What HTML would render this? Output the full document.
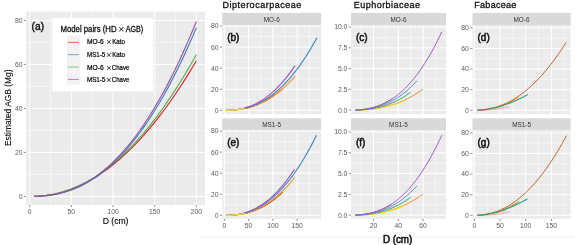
<!DOCTYPE html>
<html><head><meta charset="utf-8"><style>
html,body{margin:0;padding:0;background:#fff;width:575px;height:245px;overflow:hidden;}
svg{display:block;font-family:"Liberation Sans", sans-serif;will-change:transform;}
</style></head><body>
<svg width="575" height="245" viewBox="0 0 575 245" font-family='"Liberation Sans", sans-serif'><rect width="575" height="245" fill="#fff"/>
<rect x="26.2" y="11.6" width="178.8" height="193.4" fill="#EBEBEB"/>
<line x1="50.54" y1="11.6" x2="50.54" y2="205" stroke="#fff" stroke-width="0.5"/>
<line x1="92.21" y1="11.6" x2="92.21" y2="205" stroke="#fff" stroke-width="0.5"/>
<line x1="133.89" y1="11.6" x2="133.89" y2="205" stroke="#fff" stroke-width="0.5"/>
<line x1="175.56" y1="11.6" x2="175.56" y2="205" stroke="#fff" stroke-width="0.5"/>
<line x1="26.2" y1="174.4" x2="205" y2="174.4" stroke="#fff" stroke-width="0.5"/>
<line x1="26.2" y1="130.4" x2="205" y2="130.4" stroke="#fff" stroke-width="0.5"/>
<line x1="26.2" y1="86.4" x2="205" y2="86.4" stroke="#fff" stroke-width="0.5"/>
<line x1="26.2" y1="42.4" x2="205" y2="42.4" stroke="#fff" stroke-width="0.5"/>
<line x1="29.7" y1="11.6" x2="29.7" y2="205" stroke="#fff" stroke-width="1"/>
<line x1="71.38" y1="11.6" x2="71.38" y2="205" stroke="#fff" stroke-width="1"/>
<line x1="113.05" y1="11.6" x2="113.05" y2="205" stroke="#fff" stroke-width="1"/>
<line x1="154.72" y1="11.6" x2="154.72" y2="205" stroke="#fff" stroke-width="1"/>
<line x1="196.4" y1="11.6" x2="196.4" y2="205" stroke="#fff" stroke-width="1"/>
<line x1="26.2" y1="196.4" x2="205" y2="196.4" stroke="#fff" stroke-width="1"/>
<line x1="26.2" y1="152.4" x2="205" y2="152.4" stroke="#fff" stroke-width="1"/>
<line x1="26.2" y1="108.4" x2="205" y2="108.4" stroke="#fff" stroke-width="1"/>
<line x1="26.2" y1="64.4" x2="205" y2="64.4" stroke="#fff" stroke-width="1"/>
<line x1="26.2" y1="20.4" x2="205" y2="20.4" stroke="#fff" stroke-width="1"/>
<line x1="24" y1="196.4" x2="26.2" y2="196.4" stroke="#444444" stroke-width="0.6"/>
<text x="22.6" y="198.8" text-anchor="end" font-size="6.8" fill="#5A5A5A">0</text>
<line x1="24" y1="152.4" x2="26.2" y2="152.4" stroke="#444444" stroke-width="0.6"/>
<text x="22.6" y="154.8" text-anchor="end" font-size="6.8" fill="#5A5A5A">20</text>
<line x1="24" y1="108.4" x2="26.2" y2="108.4" stroke="#444444" stroke-width="0.6"/>
<text x="22.6" y="110.8" text-anchor="end" font-size="6.8" fill="#5A5A5A">40</text>
<line x1="24" y1="64.4" x2="26.2" y2="64.4" stroke="#444444" stroke-width="0.6"/>
<text x="22.6" y="66.8" text-anchor="end" font-size="6.8" fill="#5A5A5A">60</text>
<line x1="24" y1="20.4" x2="26.2" y2="20.4" stroke="#444444" stroke-width="0.6"/>
<text x="22.6" y="22.8" text-anchor="end" font-size="6.8" fill="#5A5A5A">80</text>
<line x1="29.7" y1="205" x2="29.7" y2="207.2" stroke="#444444" stroke-width="0.6"/>
<text x="29.7" y="214.2" text-anchor="middle" font-size="6.8" fill="#5A5A5A">0</text>
<line x1="71.38" y1="205" x2="71.38" y2="207.2" stroke="#444444" stroke-width="0.6"/>
<text x="71.38" y="214.2" text-anchor="middle" font-size="6.8" fill="#5A5A5A">50</text>
<line x1="113.05" y1="205" x2="113.05" y2="207.2" stroke="#444444" stroke-width="0.6"/>
<text x="113.05" y="214.2" text-anchor="middle" font-size="6.8" fill="#5A5A5A">100</text>
<line x1="154.72" y1="205" x2="154.72" y2="207.2" stroke="#444444" stroke-width="0.6"/>
<text x="154.72" y="214.2" text-anchor="middle" font-size="6.8" fill="#5A5A5A">150</text>
<line x1="196.4" y1="205" x2="196.4" y2="207.2" stroke="#444444" stroke-width="0.6"/>
<text x="196.4" y="214.2" text-anchor="middle" font-size="6.8" fill="#5A5A5A">200</text>
<polyline points="34.12,196.33 38.17,196.14 42.23,195.81 46.29,195.33 50.35,194.71 54.4,193.94 58.46,193.01 62.52,191.93 66.57,190.69 70.63,189.29 74.69,187.73 78.75,186 82.8,184.11 86.86,182.06 90.92,179.84 94.97,177.45 99.03,174.89 103.09,172.16 107.14,169.27 111.2,166.19 115.26,162.95 119.32,159.53 123.37,155.94 127.43,152.17 131.49,148.23 135.54,144.11 139.6,139.81 143.66,135.33 147.72,130.68 151.77,125.84 155.83,120.83 159.89,115.63 163.94,110.26 168,104.7 172.06,98.96 176.11,93.04 180.17,86.93 184.23,80.64 188.29,74.16 192.34,67.5 196.4,60.66" fill="none" stroke="#E41A1C" stroke-width="1.1" stroke-linecap="butt" stroke-linejoin="round"/>
<polyline points="34.12,196.34 38.17,196.14 42.23,195.81 46.29,195.33 50.35,194.71 54.4,193.92 58.46,192.98 62.52,191.88 66.57,190.61 70.63,189.17 74.69,187.57 78.75,185.79 82.8,183.85 86.86,181.73 90.92,179.43 94.97,176.96 99.03,174.31 103.09,171.48 107.14,168.47 111.2,165.27 115.26,161.9 119.32,158.33 123.37,154.59 127.43,150.66 131.49,146.54 135.54,142.23 139.6,137.73 143.66,133.05 147.72,128.17 151.77,123.1 155.83,117.84 159.89,112.38 163.94,106.74 168,100.9 172.06,94.86 176.11,88.62 180.17,82.2 184.23,75.57 188.29,68.74 192.34,61.72 196.4,54.5" fill="none" stroke="#4DAF4A" stroke-width="1.1" stroke-linecap="butt" stroke-linejoin="round"/>
<polyline points="34.12,196.37 38.17,196.25 42.23,196.01 46.29,195.65 50.35,195.15 54.4,194.5 58.46,193.68 62.52,192.7 66.57,191.53 70.63,190.18 74.69,188.63 78.75,186.88 82.8,184.93 86.86,182.76 90.92,180.37 94.97,177.77 99.03,174.93 103.09,171.86 107.14,168.55 111.2,165 115.26,161.2 119.32,157.16 123.37,152.85 127.43,148.29 131.49,143.46 135.54,138.37 139.6,133.01 143.66,127.37 147.72,121.46 151.77,115.26 155.83,108.78 159.89,102.02 163.94,94.96 168,87.61 172.06,79.96 176.11,72.01 180.17,63.76 184.23,55.2 188.29,46.33 192.34,37.15 196.4,27.66" fill="none" stroke="#377EB8" stroke-width="1.1" stroke-linecap="butt" stroke-linejoin="round"/>
<polyline points="34.12,196.37 38.17,196.24 42.23,196 46.29,195.63 50.35,195.11 54.4,194.43 58.46,193.59 62.52,192.56 66.57,191.35 70.63,189.95 74.69,188.35 78.75,186.53 82.8,184.51 86.86,182.26 90.92,179.79 94.97,177.09 99.03,174.15 103.09,170.96 107.14,167.54 111.2,163.86 115.26,159.92 119.32,155.72 123.37,151.26 127.43,146.53 131.49,141.53 135.54,136.25 139.6,130.7 143.66,124.85 147.72,118.72 151.77,112.3 155.83,105.58 159.89,98.57 163.94,91.25 168,83.63 172.06,75.71 176.11,67.47 180.17,58.91 184.23,50.04 188.29,40.85 192.34,31.34 196.4,21.5" fill="none" stroke="#984EA3" stroke-width="1.1" stroke-linecap="butt" stroke-linejoin="round"/>
<text x="31.6" y="29.6" font-size="10.2" fill="#111" stroke="#111" stroke-width="0.4">(a)</text>
<rect x="52.2" y="17.8" width="101" height="73.6" fill="#fff"/>
<text x="60.5" y="31.9" font-size="8.6" fill="#111" stroke="#111" stroke-width="0.3" textLength="56" lengthAdjust="spacingAndGlyphs">Model pairs (HD</text>
<text x="118.3" y="32.6" font-size="10.5" fill="#222">×</text>
<text x="125.7" y="31.9" font-size="8.6" fill="#111" stroke="#111" stroke-width="0.3" textLength="17.5" lengthAdjust="spacingAndGlyphs">AGB)</text>
<rect x="67.1" y="35.6" width="13" height="49.1" fill="#F2F2F2"/>
<line x1="67.9" y1="42.35" x2="78.9" y2="42.35" stroke="#E41A1C" stroke-width="0.8" stroke-opacity="0.85"/>
<text x="87.0" y="44.2" font-size="6.5" fill="#000" stroke="#000" stroke-width="0.2" textLength="16.6" lengthAdjust="spacingAndGlyphs">MO-6</text>
<text x="106.3" y="45.1" font-size="9" fill="#222">×</text>
<text x="112.2" y="44.2" font-size="6.6" fill="#000" stroke="#000" stroke-width="0.2" textLength="12.9" lengthAdjust="spacingAndGlyphs">Kato</text>
<line x1="67.9" y1="54.7" x2="78.9" y2="54.7" stroke="#377EB8" stroke-width="0.8" stroke-opacity="0.85"/>
<text x="87.0" y="56.7" font-size="6.5" fill="#000" stroke="#000" stroke-width="0.2" textLength="18.3" lengthAdjust="spacingAndGlyphs">MS1-5</text>
<text x="106.3" y="57.6" font-size="9" fill="#222">×</text>
<text x="112.2" y="56.7" font-size="6.6" fill="#000" stroke="#000" stroke-width="0.2" textLength="12.9" lengthAdjust="spacingAndGlyphs">Kato</text>
<line x1="67.9" y1="67.05" x2="78.9" y2="67.05" stroke="#4DAF4A" stroke-width="0.8" stroke-opacity="0.85"/>
<text x="87.0" y="69.6" font-size="6.5" fill="#000" stroke="#000" stroke-width="0.2" textLength="16.6" lengthAdjust="spacingAndGlyphs">MO-6</text>
<text x="106.3" y="70.5" font-size="9" fill="#222">×</text>
<text x="111.8" y="69.6" font-size="6.6" fill="#000" stroke="#000" stroke-width="0.2" textLength="17.6" lengthAdjust="spacingAndGlyphs">Chave</text>
<line x1="67.9" y1="79.4" x2="78.9" y2="79.4" stroke="#984EA3" stroke-width="0.8" stroke-opacity="0.85"/>
<text x="87.0" y="81.9" font-size="6.5" fill="#000" stroke="#000" stroke-width="0.2" textLength="18.3" lengthAdjust="spacingAndGlyphs">MS1-5</text>
<text x="106.3" y="82.8" font-size="9" fill="#222">×</text>
<text x="111.8" y="81.9" font-size="6.6" fill="#000" stroke="#000" stroke-width="0.2" textLength="17.6" lengthAdjust="spacingAndGlyphs">Chave</text>
<text x="115.6" y="224.4" text-anchor="middle" font-size="8.6" fill="#000" stroke="#000" stroke-width="0.12">D (cm)</text>
<text transform="translate(10.9,107.8) rotate(-90)" text-anchor="middle" font-size="9.1" fill="#000" stroke="#000" stroke-width="0.08" textLength="76.6" lengthAdjust="spacingAndGlyphs">Estimated AGB (Mg)</text>
<text x="222.6" y="7.5" font-size="9" fill="#111" stroke="#111" stroke-width="0.3" textLength="78.6" lengthAdjust="spacing">Dipterocarpaceae</text>
<text x="353.8" y="7.5" font-size="9" fill="#111" stroke="#111" stroke-width="0.3" textLength="66.1" lengthAdjust="spacing">Euphorbiaceae</text>
<text x="474.3" y="7.5" font-size="9" fill="#111" stroke="#111" stroke-width="0.3" textLength="42.0" lengthAdjust="spacing">Fabaceae</text>
<rect x="222.2" y="12.9" width="99" height="12.6" fill="#D9D9D9"/>
<text x="271.7" y="21.6" text-anchor="middle" font-size="6.4" fill="#333" >MO-6</text>
<rect x="222.2" y="25.5" width="99" height="88.7" fill="#EBEBEB"/>
<line x1="236.45" y1="25.5" x2="236.45" y2="114.2" stroke="#fff" stroke-width="0.5"/>
<line x1="260.75" y1="25.5" x2="260.75" y2="114.2" stroke="#fff" stroke-width="0.5"/>
<line x1="285.05" y1="25.5" x2="285.05" y2="114.2" stroke="#fff" stroke-width="0.5"/>
<line x1="309.35" y1="25.5" x2="309.35" y2="114.2" stroke="#fff" stroke-width="0.5"/>
<line x1="222.2" y1="99.77" x2="321.2" y2="99.77" stroke="#fff" stroke-width="0.5"/>
<line x1="222.2" y1="78.71" x2="321.2" y2="78.71" stroke="#fff" stroke-width="0.5"/>
<line x1="222.2" y1="57.65" x2="321.2" y2="57.65" stroke="#fff" stroke-width="0.5"/>
<line x1="222.2" y1="36.59" x2="321.2" y2="36.59" stroke="#fff" stroke-width="0.5"/>
<line x1="224.3" y1="25.5" x2="224.3" y2="114.2" stroke="#fff" stroke-width="1"/>
<line x1="248.6" y1="25.5" x2="248.6" y2="114.2" stroke="#fff" stroke-width="1"/>
<line x1="272.9" y1="25.5" x2="272.9" y2="114.2" stroke="#fff" stroke-width="1"/>
<line x1="297.2" y1="25.5" x2="297.2" y2="114.2" stroke="#fff" stroke-width="1"/>
<line x1="222.2" y1="110.3" x2="321.2" y2="110.3" stroke="#fff" stroke-width="1"/>
<line x1="222.2" y1="89.24" x2="321.2" y2="89.24" stroke="#fff" stroke-width="1"/>
<line x1="222.2" y1="68.18" x2="321.2" y2="68.18" stroke="#fff" stroke-width="1"/>
<line x1="222.2" y1="47.12" x2="321.2" y2="47.12" stroke="#fff" stroke-width="1"/>
<line x1="222.2" y1="26.06" x2="321.2" y2="26.06" stroke="#fff" stroke-width="1"/>
<line x1="220" y1="110.3" x2="222.2" y2="110.3" stroke="#444444" stroke-width="0.6"/>
<text x="218.6" y="112.7" text-anchor="end" font-size="6.8" fill="#5A5A5A">0</text>
<line x1="220" y1="89.24" x2="222.2" y2="89.24" stroke="#444444" stroke-width="0.6"/>
<text x="218.6" y="91.64" text-anchor="end" font-size="6.8" fill="#5A5A5A">20</text>
<line x1="220" y1="68.18" x2="222.2" y2="68.18" stroke="#444444" stroke-width="0.6"/>
<text x="218.6" y="70.58" text-anchor="end" font-size="6.8" fill="#5A5A5A">40</text>
<line x1="220" y1="47.12" x2="222.2" y2="47.12" stroke="#444444" stroke-width="0.6"/>
<text x="218.6" y="49.52" text-anchor="end" font-size="6.8" fill="#5A5A5A">60</text>
<line x1="220" y1="26.06" x2="222.2" y2="26.06" stroke="#444444" stroke-width="0.6"/>
<text x="218.6" y="28.46" text-anchor="end" font-size="6.8" fill="#5A5A5A">80</text>
<text x="227.2" y="41.3" font-size="10" fill="#111" stroke="#111" stroke-width="0.5">(b)</text>
<polyline points="226.73,110.29 228.12,110.26 229.51,110.23 230.9,110.17 232.29,110.1 233.68,110.01 235.07,109.89 236.45,109.76 237.84,109.6 239.23,109.42 240.62,109.22 242.01,108.99 243.4,108.73 244.79,108.45 246.18,108.15 247.57,107.81 248.96,107.45 250.35,107.05 251.74,106.63 253.13,106.18 254.52,105.7 255.9,105.19 257.29,104.64 258.68,104.07 260.07,103.46 261.46,102.82 262.85,102.14 264.24,101.44 265.63,100.69 267.02,99.92 268.41,99.11 269.8,98.26 271.19,97.38 272.58,96.46 273.96,95.51 275.35,94.52 276.74,93.49 278.13,92.42 279.52,91.32 280.91,90.18 282.3,89" fill="none" stroke="#E5452A" stroke-width="1.2" stroke-linecap="butt" stroke-linejoin="round"/>
<polyline points="226.73,110.29 227.94,110.27 229.14,110.23 230.35,110.19 231.56,110.13 232.76,110.05 233.97,109.96 235.18,109.86 236.38,109.73 237.59,109.59 238.8,109.43 240,109.25 241.21,109.05 242.42,108.83 243.62,108.59 244.83,108.33 246.04,108.04 247.24,107.74 248.45,107.41 249.66,107.06 250.87,106.69 252.07,106.29 253.28,105.87 254.49,105.42 255.69,104.95 256.9,104.46 258.11,103.93 259.31,103.39 260.52,102.81 261.73,102.22 262.93,101.59 264.14,100.94 265.35,100.26 266.55,99.55 267.76,98.81 268.97,98.05 270.17,97.26 271.38,96.44 272.59,95.59 273.79,94.71 275,93.8" fill="none" stroke="#C8352A" stroke-width="1.0" stroke-linecap="butt" stroke-linejoin="round"/>
<polyline points="226.73,110.29 228.44,110.26 230.15,110.2 231.86,110.12 233.57,110.01 235.28,109.87 236.99,109.7 238.69,109.49 240.4,109.25 242.11,108.97 243.82,108.65 245.53,108.29 247.24,107.89 248.95,107.44 250.66,106.96 252.37,106.42 254.08,105.85 255.79,105.22 257.5,104.55 259.21,103.83 260.92,103.06 262.62,102.24 264.33,101.37 266.04,100.45 267.75,99.47 269.46,98.45 271.17,97.36 272.88,96.23 274.59,95.04 276.3,93.79 278.01,92.49 279.72,91.13 281.43,89.71 283.14,88.23 284.84,86.69 286.55,85.1 288.26,83.44 289.97,81.72 291.68,79.94 293.39,78.1 295.1,76.2" fill="none" stroke="#F39A2A" stroke-width="1.15" stroke-linecap="butt" stroke-linejoin="round"/>
<polyline points="226.73,110.29 228.99,110.23 231.24,110.14 233.5,109.98 235.76,109.77 238.01,109.48 240.27,109.13 242.53,108.71 244.78,108.21 247.04,107.62 249.3,106.96 251.55,106.21 253.81,105.36 256.07,104.43 258.32,103.4 260.58,102.28 262.84,101.06 265.09,99.74 267.35,98.31 269.61,96.78 271.87,95.15 274.12,93.4 276.38,91.55 278.64,89.58 280.89,87.5 283.15,85.31 285.41,83 287.66,80.57 289.92,78.02 292.18,75.35 294.43,72.56 296.69,69.64 298.95,66.6 301.2,63.43 303.46,60.14 305.72,56.71 307.97,53.16 310.23,49.47 312.49,45.65 314.74,41.69 317,37.6" fill="none" stroke="#3F8BCB" stroke-width="1.15" stroke-linecap="butt" stroke-linejoin="round"/>
<polyline points="226.73,110.28 228.44,110.24 230.15,110.17 231.86,110.07 233.57,109.92 235.28,109.74 236.99,109.52 238.69,109.24 240.4,108.93 242.11,108.56 243.82,108.14 245.53,107.67 247.24,107.14 248.95,106.56 250.66,105.93 252.37,105.23 254.08,104.47 255.79,103.66 257.5,102.78 259.21,101.84 260.92,100.83 262.62,99.76 264.33,98.62 266.04,97.41 267.75,96.14 269.46,94.8 271.17,93.38 272.88,91.9 274.59,90.34 276.3,88.71 278.01,87 279.72,85.22 281.43,83.37 283.14,81.43 284.84,79.42 286.55,77.34 288.26,75.17 289.97,72.92 291.68,70.6 293.39,68.19 295.1,65.7" fill="none" stroke="#A157C3" stroke-width="1.15" stroke-linecap="butt" stroke-linejoin="round"/>
<polyline points="226.73,110.29 227.18,110.28 227.63,110.27 228.09,110.26 228.54,110.25 228.99,110.24 229.44,110.23 229.89,110.21 230.34,110.19 230.8,110.17 231.25,110.15 231.7,110.13 232.15,110.1 232.6,110.07 233.05,110.04 233.51,110.01 233.96,109.98 234.41,109.94 234.86,109.9 235.31,109.86 235.77,109.82 236.22,109.77 236.67,109.72 237.12,109.67 237.57,109.62 238.02,109.56 238.48,109.5 238.93,109.44 239.38,109.38 239.83,109.31 240.28,109.24 240.73,109.17 241.19,109.1 241.64,109.02 242.09,108.94 242.54,108.86 242.99,108.77 243.44,108.68 243.9,108.59 244.35,108.5 244.8,108.4" fill="none" stroke="#F2E240" stroke-width="1.4" stroke-linecap="butt" stroke-linejoin="round"/>
<rect x="351" y="12.9" width="95" height="12.6" fill="#D9D9D9"/>
<text x="398.5" y="21.6" text-anchor="middle" font-size="6.4" fill="#333" >MO-6</text>
<rect x="351" y="25.5" width="95" height="88.7" fill="#EBEBEB"/>
<line x1="361.1" y1="25.5" x2="361.1" y2="114.2" stroke="#fff" stroke-width="0.5"/>
<line x1="385.9" y1="25.5" x2="385.9" y2="114.2" stroke="#fff" stroke-width="0.5"/>
<line x1="410.7" y1="25.5" x2="410.7" y2="114.2" stroke="#fff" stroke-width="0.5"/>
<line x1="435.5" y1="25.5" x2="435.5" y2="114.2" stroke="#fff" stroke-width="0.5"/>
<line x1="351" y1="99.76" x2="446" y2="99.76" stroke="#fff" stroke-width="0.5"/>
<line x1="351" y1="78.98" x2="446" y2="78.98" stroke="#fff" stroke-width="0.5"/>
<line x1="351" y1="58.2" x2="446" y2="58.2" stroke="#fff" stroke-width="0.5"/>
<line x1="351" y1="37.42" x2="446" y2="37.42" stroke="#fff" stroke-width="0.5"/>
<line x1="373.5" y1="25.5" x2="373.5" y2="114.2" stroke="#fff" stroke-width="1"/>
<line x1="398.3" y1="25.5" x2="398.3" y2="114.2" stroke="#fff" stroke-width="1"/>
<line x1="423.1" y1="25.5" x2="423.1" y2="114.2" stroke="#fff" stroke-width="1"/>
<line x1="351" y1="110.15" x2="446" y2="110.15" stroke="#fff" stroke-width="1"/>
<line x1="351" y1="89.37" x2="446" y2="89.37" stroke="#fff" stroke-width="1"/>
<line x1="351" y1="68.59" x2="446" y2="68.59" stroke="#fff" stroke-width="1"/>
<line x1="351" y1="47.81" x2="446" y2="47.81" stroke="#fff" stroke-width="1"/>
<line x1="351" y1="27.03" x2="446" y2="27.03" stroke="#fff" stroke-width="1"/>
<line x1="348.8" y1="110.15" x2="351" y2="110.15" stroke="#444444" stroke-width="0.6"/>
<text x="347.4" y="112.55" text-anchor="end" font-size="6.8" fill="#5A5A5A">0.0</text>
<line x1="348.8" y1="89.37" x2="351" y2="89.37" stroke="#444444" stroke-width="0.6"/>
<text x="347.4" y="91.77" text-anchor="end" font-size="6.8" fill="#5A5A5A">2.5</text>
<line x1="348.8" y1="68.59" x2="351" y2="68.59" stroke="#444444" stroke-width="0.6"/>
<text x="347.4" y="70.99" text-anchor="end" font-size="6.8" fill="#5A5A5A">5.0</text>
<line x1="348.8" y1="47.81" x2="351" y2="47.81" stroke="#444444" stroke-width="0.6"/>
<text x="347.4" y="50.21" text-anchor="end" font-size="6.8" fill="#5A5A5A">7.5</text>
<line x1="348.8" y1="27.03" x2="351" y2="27.03" stroke="#444444" stroke-width="0.6"/>
<text x="347.4" y="29.43" text-anchor="end" font-size="6.8" fill="#5A5A5A">10.0</text>
<text x="356" y="41.3" font-size="10" fill="#111" stroke="#111" stroke-width="0.5">(c)</text>
<polyline points="355.52,110.05 356.42,110.01 357.31,109.97 358.21,109.91 359.11,109.85 360,109.78 360.9,109.7 361.8,109.61 362.7,109.51 363.59,109.4 364.49,109.28 365.39,109.15 366.28,109.01 367.18,108.86 368.08,108.69 368.97,108.51 369.87,108.32 370.77,108.12 371.67,107.9 372.56,107.67 373.46,107.42 374.36,107.16 375.25,106.89 376.15,106.6 377.05,106.3 377.94,105.98 378.84,105.64 379.74,105.3 380.64,104.93 381.53,104.55 382.43,104.15 383.33,103.73 384.22,103.3 385.12,102.85 386.02,102.38 386.91,101.9 387.81,101.4 388.71,100.87 389.61,100.34 390.5,99.78 391.4,99.2" fill="none" stroke="#B8442A" stroke-width="0.95" stroke-linecap="butt" stroke-linejoin="round"/>
<polyline points="355.52,110.1 357.2,110.07 358.88,110.02 360.57,109.95 362.25,109.88 363.93,109.78 365.61,109.67 367.29,109.54 368.98,109.38 370.66,109.21 372.34,109.02 374.02,108.8 375.7,108.56 377.39,108.3 379.07,108.01 380.75,107.69 382.43,107.35 384.11,106.98 385.8,106.58 387.48,106.15 389.16,105.69 390.84,105.21 392.52,104.69 394.21,104.14 395.89,103.55 397.57,102.94 399.25,102.29 400.93,101.6 402.62,100.88 404.3,100.13 405.98,99.34 407.66,98.51 409.34,97.64 411.03,96.74 412.71,95.8 414.39,94.81 416.07,93.79 417.75,92.73 419.44,91.63 421.12,90.49 422.8,89.3" fill="none" stroke="#F28E2B" stroke-width="1.0" stroke-linecap="butt" stroke-linejoin="round"/>
<polyline points="355.52,110.11 356.75,110.09 357.97,110.06 359.2,110.03 360.43,109.99 361.65,109.94 362.88,109.88 364.11,109.82 365.34,109.74 366.56,109.66 367.79,109.57 369.02,109.46 370.24,109.35 371.47,109.23 372.7,109.09 373.92,108.94 375.15,108.79 376.38,108.61 377.61,108.43 378.83,108.23 380.06,108.03 381.29,107.8 382.51,107.57 383.74,107.31 384.97,107.05 386.19,106.77 387.42,106.47 388.65,106.16 389.88,105.84 391.1,105.49 392.33,105.14 393.56,104.76 394.78,104.37 396.01,103.96 397.24,103.53 398.46,103.09 399.69,102.63 400.92,102.15 402.15,101.65 403.37,101.14 404.6,100.6" fill="none" stroke="#F3E02A" stroke-width="1.15" stroke-linecap="butt" stroke-linejoin="round"/>
<polyline points="355.52,110.09 356.9,110.05 358.27,110 359.65,109.93 361.03,109.86 362.4,109.77 363.78,109.66 365.16,109.54 366.54,109.4 367.91,109.25 369.29,109.07 370.67,108.88 372.04,108.67 373.42,108.43 374.8,108.18 376.17,107.9 377.55,107.6 378.93,107.28 380.31,106.93 381.68,106.57 383.06,106.17 384.44,105.75 385.81,105.31 387.19,104.84 388.57,104.34 389.94,103.81 391.32,103.26 392.7,102.68 394.08,102.06 395.45,101.42 396.83,100.75 398.21,100.05 399.58,99.32 400.96,98.56 402.34,97.76 403.71,96.94 405.09,96.08 406.47,95.18 407.85,94.26 409.22,93.3 410.6,92.3" fill="none" stroke="#35A275" stroke-width="1.0" stroke-linecap="butt" stroke-linejoin="round"/>
<polyline points="355.52,110.07 357.05,110.01 358.59,109.94 360.12,109.84 361.66,109.73 363.19,109.59 364.73,109.42 366.26,109.23 367.8,109.01 369.33,108.76 370.86,108.48 372.4,108.18 373.93,107.83 375.47,107.46 377,107.04 378.54,106.6 380.07,106.11 381.61,105.59 383.14,105.03 384.68,104.42 386.21,103.78 387.74,103.1 389.28,102.37 390.81,101.59 392.35,100.78 393.88,99.91 395.42,99 396.95,98.05 398.49,97.04 400.02,95.98 401.55,94.88 403.09,93.72 404.62,92.52 406.16,91.26 407.69,89.94 409.23,88.57 410.76,87.15 412.3,85.67 413.83,84.14 415.37,82.55 416.9,80.9" fill="none" stroke="#4C8FCF" stroke-width="1.0" stroke-linecap="butt" stroke-linejoin="round"/>
<polyline points="355.52,110.05 357.68,109.95 359.83,109.8 361.99,109.6 364.15,109.35 366.3,109.03 368.46,108.64 370.62,108.19 372.78,107.66 374.93,107.05 377.09,106.36 379.25,105.58 381.4,104.71 383.56,103.75 385.72,102.69 387.87,101.53 390.03,100.27 392.19,98.9 394.35,97.42 396.5,95.83 398.66,94.13 400.82,92.31 402.97,90.36 405.13,88.29 407.29,86.1 409.44,83.78 411.6,81.32 413.76,78.73 415.92,76.01 418.07,73.15 420.23,70.14 422.39,66.99 424.54,63.7 426.7,60.25 428.86,56.66 431.01,52.91 433.17,49.01 435.33,44.95 437.49,40.73 439.64,36.35 441.8,31.8" fill="none" stroke="#A05CC6" stroke-width="1.0" stroke-linecap="butt" stroke-linejoin="round"/>
<rect x="472.5" y="12.9" width="98.1" height="12.6" fill="#D9D9D9"/>
<text x="521.55" y="21.6" text-anchor="middle" font-size="6.4" fill="#333" >MO-6</text>
<rect x="472.5" y="25.5" width="98.1" height="88.7" fill="#EBEBEB"/>
<line x1="487.15" y1="25.5" x2="487.15" y2="114.2" stroke="#fff" stroke-width="0.5"/>
<line x1="512.85" y1="25.5" x2="512.85" y2="114.2" stroke="#fff" stroke-width="0.5"/>
<line x1="538.55" y1="25.5" x2="538.55" y2="114.2" stroke="#fff" stroke-width="0.5"/>
<line x1="564.25" y1="25.5" x2="564.25" y2="114.2" stroke="#fff" stroke-width="0.5"/>
<line x1="472.5" y1="99.99" x2="570.6" y2="99.99" stroke="#fff" stroke-width="0.5"/>
<line x1="472.5" y1="79.37" x2="570.6" y2="79.37" stroke="#fff" stroke-width="0.5"/>
<line x1="472.5" y1="58.75" x2="570.6" y2="58.75" stroke="#fff" stroke-width="0.5"/>
<line x1="472.5" y1="38.13" x2="570.6" y2="38.13" stroke="#fff" stroke-width="0.5"/>
<line x1="474.3" y1="25.5" x2="474.3" y2="114.2" stroke="#fff" stroke-width="1"/>
<line x1="500" y1="25.5" x2="500" y2="114.2" stroke="#fff" stroke-width="1"/>
<line x1="525.7" y1="25.5" x2="525.7" y2="114.2" stroke="#fff" stroke-width="1"/>
<line x1="551.4" y1="25.5" x2="551.4" y2="114.2" stroke="#fff" stroke-width="1"/>
<line x1="472.5" y1="110.3" x2="570.6" y2="110.3" stroke="#fff" stroke-width="1"/>
<line x1="472.5" y1="89.68" x2="570.6" y2="89.68" stroke="#fff" stroke-width="1"/>
<line x1="472.5" y1="69.06" x2="570.6" y2="69.06" stroke="#fff" stroke-width="1"/>
<line x1="472.5" y1="48.44" x2="570.6" y2="48.44" stroke="#fff" stroke-width="1"/>
<line x1="472.5" y1="27.82" x2="570.6" y2="27.82" stroke="#fff" stroke-width="1"/>
<line x1="470.3" y1="110.3" x2="472.5" y2="110.3" stroke="#444444" stroke-width="0.6"/>
<text x="468.9" y="112.7" text-anchor="end" font-size="6.8" fill="#5A5A5A">0</text>
<line x1="470.3" y1="89.68" x2="472.5" y2="89.68" stroke="#444444" stroke-width="0.6"/>
<text x="468.9" y="92.08" text-anchor="end" font-size="6.8" fill="#5A5A5A">20</text>
<line x1="470.3" y1="69.06" x2="472.5" y2="69.06" stroke="#444444" stroke-width="0.6"/>
<text x="468.9" y="71.46" text-anchor="end" font-size="6.8" fill="#5A5A5A">40</text>
<line x1="470.3" y1="48.44" x2="472.5" y2="48.44" stroke="#444444" stroke-width="0.6"/>
<text x="468.9" y="50.84" text-anchor="end" font-size="6.8" fill="#5A5A5A">60</text>
<line x1="470.3" y1="27.82" x2="472.5" y2="27.82" stroke="#444444" stroke-width="0.6"/>
<text x="468.9" y="30.22" text-anchor="end" font-size="6.8" fill="#5A5A5A">80</text>
<text x="477.5" y="41.3" font-size="10" fill="#111" stroke="#111" stroke-width="0.5">(d)</text>
<polyline points="477.28,110.26 479.5,110.16 481.72,110 483.94,109.77 486.16,109.47 488.38,109.09 490.6,108.65 492.82,108.13 495.04,107.53 497.27,106.85 499.49,106.09 501.71,105.25 503.93,104.33 506.15,103.33 508.37,102.24 510.59,101.07 512.81,99.81 515.03,98.47 517.25,97.04 519.47,95.52 521.69,93.91 523.91,92.22 526.13,90.43 528.35,88.56 530.57,86.59 532.79,84.53 535.01,82.39 537.23,80.14 539.45,77.81 541.67,75.38 543.9,72.86 546.12,70.25 548.34,67.54 550.56,64.73 552.78,61.83 555,58.84 557.22,55.74 559.44,52.55 561.66,49.27 563.88,45.88 566.1,42.4" fill="none" stroke="#C5622B" stroke-width="1.0" stroke-linecap="butt" stroke-linejoin="round"/>
<polyline points="477.28,110.29 478.09,110.28 478.89,110.27 479.7,110.26 480.5,110.24 481.31,110.22 482.11,110.2 482.92,110.17 483.72,110.14 484.53,110.11 485.34,110.07 486.14,110.03 486.95,109.98 487.75,109.93 488.56,109.88 489.36,109.82 490.17,109.75 490.97,109.68 491.78,109.61 492.59,109.53 493.39,109.45 494.2,109.36 495,109.27 495.81,109.17 496.61,109.06 497.42,108.95 498.22,108.84 499.03,108.71 499.83,108.59 500.64,108.46 501.45,108.32 502.25,108.17 503.06,108.02 503.86,107.87 504.67,107.7 505.47,107.54 506.28,107.36 507.08,107.18 507.89,106.99 508.69,106.8 509.5,106.6" fill="none" stroke="#EE8FCF" stroke-width="0.9" stroke-linecap="butt" stroke-linejoin="round"/>
<polyline points="477.28,110.28 478,110.27 478.72,110.25 479.44,110.23 480.15,110.2 480.87,110.17 481.59,110.13 482.31,110.09 483.02,110.04 483.74,109.98 484.46,109.92 485.18,109.85 485.9,109.78 486.61,109.7 487.33,109.61 488.05,109.52 488.77,109.42 489.49,109.31 490.2,109.19 490.92,109.07 491.64,108.94 492.36,108.8 493.08,108.65 493.79,108.49 494.51,108.33 495.23,108.16 495.95,107.98 496.67,107.79 497.38,107.59 498.1,107.38 498.82,107.17 499.54,106.94 500.26,106.71 500.97,106.47 501.69,106.22 502.41,105.95 503.13,105.68 503.85,105.4 504.56,105.11 505.28,104.81 506,104.5" fill="none" stroke="#E8D030" stroke-width="1.1" stroke-linecap="butt" stroke-linejoin="round"/>
<polyline points="477.28,110.25 478.32,110.21 479.37,110.16 480.41,110.09 481.45,110 482.5,109.91 483.54,109.79 484.58,109.67 485.62,109.52 486.67,109.36 487.71,109.19 488.75,109 489.8,108.8 490.84,108.58 491.88,108.34 492.93,108.09 493.97,107.82 495.01,107.54 496.05,107.24 497.1,106.92 498.14,106.59 499.18,106.24 500.23,105.87 501.27,105.49 502.31,105.09 503.36,104.67 504.4,104.24 505.44,103.79 506.48,103.33 507.53,102.84 508.57,102.34 509.61,101.83 510.66,101.29 511.7,100.74 512.74,100.17 513.79,99.59 514.83,98.98 515.87,98.36 516.91,97.73 517.96,97.07 519,96.4" fill="none" stroke="#E98A1F" stroke-width="1.2" stroke-linecap="butt" stroke-linejoin="round"/>
<polyline points="477.28,110.23 478.55,110.17 479.82,110.09 481.09,109.99 482.35,109.87 483.62,109.73 484.89,109.57 486.16,109.4 487.42,109.21 488.69,109 489.96,108.77 491.23,108.53 492.5,108.27 493.76,107.99 495.03,107.69 496.3,107.38 497.57,107.05 498.84,106.71 500.1,106.35 501.37,105.97 502.64,105.58 503.91,105.17 505.18,104.74 506.44,104.3 507.71,103.85 508.98,103.37 510.25,102.88 511.52,102.38 512.78,101.86 514.05,101.32 515.32,100.77 516.59,100.2 517.86,99.62 519.12,99.02 520.39,98.41 521.66,97.78 522.93,97.13 524.2,96.47 525.46,95.8 526.73,95.11 528,94.4" fill="none" stroke="#27A08A" stroke-width="1.1" stroke-linecap="butt" stroke-linejoin="round"/>
<rect x="222.2" y="118.3" width="99" height="12.1" fill="#D9D9D9"/>
<text x="271.7" y="126.75" text-anchor="middle" font-size="6.4" fill="#333" >MS1-5</text>
<rect x="222.2" y="130.4" width="99" height="88.4" fill="#EBEBEB"/>
<line x1="236.45" y1="130.4" x2="236.45" y2="218.8" stroke="#fff" stroke-width="0.5"/>
<line x1="260.75" y1="130.4" x2="260.75" y2="218.8" stroke="#fff" stroke-width="0.5"/>
<line x1="285.05" y1="130.4" x2="285.05" y2="218.8" stroke="#fff" stroke-width="0.5"/>
<line x1="309.35" y1="130.4" x2="309.35" y2="218.8" stroke="#fff" stroke-width="0.5"/>
<line x1="222.2" y1="204.77" x2="321.2" y2="204.77" stroke="#fff" stroke-width="0.5"/>
<line x1="222.2" y1="183.71" x2="321.2" y2="183.71" stroke="#fff" stroke-width="0.5"/>
<line x1="222.2" y1="162.65" x2="321.2" y2="162.65" stroke="#fff" stroke-width="0.5"/>
<line x1="222.2" y1="141.59" x2="321.2" y2="141.59" stroke="#fff" stroke-width="0.5"/>
<line x1="224.3" y1="130.4" x2="224.3" y2="218.8" stroke="#fff" stroke-width="1"/>
<line x1="248.6" y1="130.4" x2="248.6" y2="218.8" stroke="#fff" stroke-width="1"/>
<line x1="272.9" y1="130.4" x2="272.9" y2="218.8" stroke="#fff" stroke-width="1"/>
<line x1="297.2" y1="130.4" x2="297.2" y2="218.8" stroke="#fff" stroke-width="1"/>
<line x1="222.2" y1="215.3" x2="321.2" y2="215.3" stroke="#fff" stroke-width="1"/>
<line x1="222.2" y1="194.24" x2="321.2" y2="194.24" stroke="#fff" stroke-width="1"/>
<line x1="222.2" y1="173.18" x2="321.2" y2="173.18" stroke="#fff" stroke-width="1"/>
<line x1="222.2" y1="152.12" x2="321.2" y2="152.12" stroke="#fff" stroke-width="1"/>
<line x1="222.2" y1="131.06" x2="321.2" y2="131.06" stroke="#fff" stroke-width="1"/>
<line x1="220" y1="215.3" x2="222.2" y2="215.3" stroke="#444444" stroke-width="0.6"/>
<text x="218.6" y="217.7" text-anchor="end" font-size="6.8" fill="#5A5A5A">0</text>
<line x1="220" y1="194.24" x2="222.2" y2="194.24" stroke="#444444" stroke-width="0.6"/>
<text x="218.6" y="196.64" text-anchor="end" font-size="6.8" fill="#5A5A5A">20</text>
<line x1="220" y1="173.18" x2="222.2" y2="173.18" stroke="#444444" stroke-width="0.6"/>
<text x="218.6" y="175.58" text-anchor="end" font-size="6.8" fill="#5A5A5A">40</text>
<line x1="220" y1="152.12" x2="222.2" y2="152.12" stroke="#444444" stroke-width="0.6"/>
<text x="218.6" y="154.52" text-anchor="end" font-size="6.8" fill="#5A5A5A">60</text>
<line x1="220" y1="131.06" x2="222.2" y2="131.06" stroke="#444444" stroke-width="0.6"/>
<text x="218.6" y="133.46" text-anchor="end" font-size="6.8" fill="#5A5A5A">80</text>
<line x1="224.3" y1="218.8" x2="224.3" y2="221" stroke="#444444" stroke-width="0.6"/>
<text x="224.3" y="228" text-anchor="middle" font-size="6.8" fill="#5A5A5A">0</text>
<line x1="248.6" y1="218.8" x2="248.6" y2="221" stroke="#444444" stroke-width="0.6"/>
<text x="248.6" y="228" text-anchor="middle" font-size="6.8" fill="#5A5A5A">50</text>
<line x1="272.9" y1="218.8" x2="272.9" y2="221" stroke="#444444" stroke-width="0.6"/>
<text x="272.9" y="228" text-anchor="middle" font-size="6.8" fill="#5A5A5A">100</text>
<line x1="297.2" y1="218.8" x2="297.2" y2="221" stroke="#444444" stroke-width="0.6"/>
<text x="297.2" y="228" text-anchor="middle" font-size="6.8" fill="#5A5A5A">150</text>
<text x="227.2" y="146.2" font-size="10" fill="#111" stroke="#111" stroke-width="0.5">(e)</text>
<polyline points="226.73,215.29 228.13,215.26 229.53,215.22 230.93,215.16 232.33,215.08 233.73,214.98 235.13,214.86 236.52,214.71 237.92,214.54 239.32,214.35 240.72,214.13 242.12,213.88 243.52,213.6 244.92,213.3 246.32,212.97 247.72,212.6 249.12,212.21 250.52,211.78 251.92,211.33 253.32,210.84 254.72,210.31 256.11,209.76 257.51,209.17 258.91,208.54 260.31,207.88 261.71,207.19 263.11,206.46 264.51,205.69 265.91,204.89 267.31,204.04 268.71,203.16 270.11,202.25 271.51,201.29 272.91,200.29 274.3,199.26 275.7,198.18 277.1,197.07 278.5,195.91 279.9,194.72 281.3,193.48 282.7,192.2" fill="none" stroke="#E5452A" stroke-width="1.2" stroke-linecap="butt" stroke-linejoin="round"/>
<polyline points="226.73,215.29 227.94,215.27 229.14,215.23 230.35,215.19 231.56,215.13 232.76,215.05 233.97,214.96 235.18,214.86 236.38,214.73 237.59,214.59 238.8,214.43 240,214.25 241.21,214.05 242.42,213.83 243.62,213.59 244.83,213.33 246.04,213.04 247.24,212.74 248.45,212.41 249.66,212.06 250.87,211.69 252.07,211.29 253.28,210.87 254.49,210.42 255.69,209.95 256.9,209.46 258.11,208.93 259.31,208.39 260.52,207.81 261.73,207.22 262.93,206.59 264.14,205.94 265.35,205.26 266.55,204.55 267.76,203.81 268.97,203.05 270.17,202.26 271.38,201.44 272.59,200.59 273.79,199.71 275,198.8" fill="none" stroke="#C8352A" stroke-width="1.0" stroke-linecap="butt" stroke-linejoin="round"/>
<polyline points="226.73,215.29 228.43,215.25 230.13,215.19 231.84,215.1 233.54,214.98 235.24,214.83 236.94,214.63 238.64,214.4 240.34,214.13 242.05,213.82 243.75,213.47 245.45,213.07 247.15,212.62 248.85,212.13 250.55,211.59 252.26,211 253.96,210.36 255.66,209.67 257.36,208.92 259.06,208.12 260.77,207.27 262.47,206.36 264.17,205.4 265.87,204.38 267.57,203.3 269.27,202.16 270.98,200.96 272.68,199.7 274.38,198.38 276.08,197 277.78,195.55 279.48,194.04 281.19,192.47 282.89,190.83 284.59,189.13 286.29,187.36 287.99,185.52 289.69,183.62 291.4,181.65 293.1,179.61 294.8,177.5" fill="none" stroke="#F39A2A" stroke-width="1.15" stroke-linecap="butt" stroke-linejoin="round"/>
<polyline points="226.73,215.28 228.97,215.23 231.22,215.12 233.46,214.95 235.71,214.71 237.95,214.4 240.2,214.01 242.44,213.55 244.68,212.99 246.93,212.35 249.17,211.62 251.42,210.79 253.66,209.86 255.91,208.83 258.15,207.7 260.39,206.46 262.64,205.12 264.88,203.66 267.13,202.09 269.37,200.41 271.62,198.61 273.86,196.69 276.1,194.65 278.35,192.48 280.59,190.19 282.84,187.78 285.08,185.23 287.32,182.56 289.57,179.75 291.81,176.81 294.06,173.74 296.3,170.53 298.55,167.18 300.79,163.69 303.03,160.06 305.28,156.29 307.52,152.38 309.77,148.32 312.01,144.11 314.26,139.75 316.5,135.25" fill="none" stroke="#3F8BCB" stroke-width="1.15" stroke-linecap="butt" stroke-linejoin="round"/>
<polyline points="226.73,215.28 228.42,215.24 230.11,215.17 231.81,215.06 233.5,214.91 235.19,214.72 236.88,214.49 238.57,214.21 240.26,213.88 241.96,213.5 243.65,213.07 245.34,212.59 247.03,212.05 248.72,211.45 250.41,210.79 252.11,210.07 253.8,209.3 255.49,208.46 257.18,207.55 258.87,206.58 260.57,205.55 262.26,204.44 263.95,203.27 265.64,202.03 267.33,200.72 269.02,199.34 270.72,197.88 272.41,196.35 274.1,194.75 275.79,193.07 277.48,191.32 279.17,189.48 280.87,187.57 282.56,185.59 284.25,183.52 285.94,181.37 287.63,179.14 289.32,176.83 291.02,174.44 292.71,171.96 294.4,169.4" fill="none" stroke="#A157C3" stroke-width="1.15" stroke-linecap="butt" stroke-linejoin="round"/>
<polyline points="226.73,215.29 227.18,215.28 227.63,215.27 228.09,215.26 228.54,215.25 228.99,215.24 229.44,215.23 229.89,215.21 230.34,215.19 230.8,215.17 231.25,215.15 231.7,215.13 232.15,215.1 232.6,215.07 233.05,215.04 233.51,215.01 233.96,214.98 234.41,214.94 234.86,214.9 235.31,214.86 235.77,214.82 236.22,214.77 236.67,214.72 237.12,214.67 237.57,214.62 238.02,214.56 238.48,214.5 238.93,214.44 239.38,214.38 239.83,214.31 240.28,214.24 240.73,214.17 241.19,214.1 241.64,214.02 242.09,213.94 242.54,213.86 242.99,213.77 243.44,213.68 243.9,213.59 244.35,213.5 244.8,213.4" fill="none" stroke="#F2E240" stroke-width="1.4" stroke-linecap="butt" stroke-linejoin="round"/>
<rect x="351" y="118.3" width="95" height="12.1" fill="#D9D9D9"/>
<text x="398.5" y="126.75" text-anchor="middle" font-size="6.4" fill="#333" >MS1-5</text>
<rect x="351" y="130.4" width="95" height="88.4" fill="#EBEBEB"/>
<line x1="361.1" y1="130.4" x2="361.1" y2="218.8" stroke="#fff" stroke-width="0.5"/>
<line x1="385.9" y1="130.4" x2="385.9" y2="218.8" stroke="#fff" stroke-width="0.5"/>
<line x1="410.7" y1="130.4" x2="410.7" y2="218.8" stroke="#fff" stroke-width="0.5"/>
<line x1="435.5" y1="130.4" x2="435.5" y2="218.8" stroke="#fff" stroke-width="0.5"/>
<line x1="351" y1="204.76" x2="446" y2="204.76" stroke="#fff" stroke-width="0.5"/>
<line x1="351" y1="183.98" x2="446" y2="183.98" stroke="#fff" stroke-width="0.5"/>
<line x1="351" y1="163.2" x2="446" y2="163.2" stroke="#fff" stroke-width="0.5"/>
<line x1="351" y1="142.42" x2="446" y2="142.42" stroke="#fff" stroke-width="0.5"/>
<line x1="373.5" y1="130.4" x2="373.5" y2="218.8" stroke="#fff" stroke-width="1"/>
<line x1="398.3" y1="130.4" x2="398.3" y2="218.8" stroke="#fff" stroke-width="1"/>
<line x1="423.1" y1="130.4" x2="423.1" y2="218.8" stroke="#fff" stroke-width="1"/>
<line x1="351" y1="215.15" x2="446" y2="215.15" stroke="#fff" stroke-width="1"/>
<line x1="351" y1="194.37" x2="446" y2="194.37" stroke="#fff" stroke-width="1"/>
<line x1="351" y1="173.59" x2="446" y2="173.59" stroke="#fff" stroke-width="1"/>
<line x1="351" y1="152.81" x2="446" y2="152.81" stroke="#fff" stroke-width="1"/>
<line x1="351" y1="132.03" x2="446" y2="132.03" stroke="#fff" stroke-width="1"/>
<line x1="348.8" y1="215.15" x2="351" y2="215.15" stroke="#444444" stroke-width="0.6"/>
<text x="347.4" y="217.55" text-anchor="end" font-size="6.8" fill="#5A5A5A">0.0</text>
<line x1="348.8" y1="194.37" x2="351" y2="194.37" stroke="#444444" stroke-width="0.6"/>
<text x="347.4" y="196.77" text-anchor="end" font-size="6.8" fill="#5A5A5A">2.5</text>
<line x1="348.8" y1="173.59" x2="351" y2="173.59" stroke="#444444" stroke-width="0.6"/>
<text x="347.4" y="175.99" text-anchor="end" font-size="6.8" fill="#5A5A5A">5.0</text>
<line x1="348.8" y1="152.81" x2="351" y2="152.81" stroke="#444444" stroke-width="0.6"/>
<text x="347.4" y="155.21" text-anchor="end" font-size="6.8" fill="#5A5A5A">7.5</text>
<line x1="348.8" y1="132.03" x2="351" y2="132.03" stroke="#444444" stroke-width="0.6"/>
<text x="347.4" y="134.43" text-anchor="end" font-size="6.8" fill="#5A5A5A">10.0</text>
<line x1="373.5" y1="218.8" x2="373.5" y2="221" stroke="#444444" stroke-width="0.6"/>
<text x="373.5" y="228" text-anchor="middle" font-size="6.8" fill="#5A5A5A">20</text>
<line x1="398.3" y1="218.8" x2="398.3" y2="221" stroke="#444444" stroke-width="0.6"/>
<text x="398.3" y="228" text-anchor="middle" font-size="6.8" fill="#5A5A5A">40</text>
<line x1="423.1" y1="218.8" x2="423.1" y2="221" stroke="#444444" stroke-width="0.6"/>
<text x="423.1" y="228" text-anchor="middle" font-size="6.8" fill="#5A5A5A">60</text>
<text x="356" y="146.2" font-size="10" fill="#111" stroke="#111" stroke-width="0.5">(f)</text>
<polyline points="355.52,215.05 356.42,215.01 357.31,214.97 358.21,214.91 359.11,214.85 360,214.78 360.9,214.7 361.8,214.61 362.7,214.51 363.59,214.4 364.49,214.28 365.39,214.15 366.28,214.01 367.18,213.86 368.08,213.69 368.97,213.51 369.87,213.32 370.77,213.12 371.67,212.9 372.56,212.67 373.46,212.42 374.36,212.16 375.25,211.89 376.15,211.6 377.05,211.3 377.94,210.98 378.84,210.64 379.74,210.3 380.64,209.93 381.53,209.55 382.43,209.15 383.33,208.73 384.22,208.3 385.12,207.85 386.02,207.38 386.91,206.9 387.81,206.4 388.71,205.87 389.61,205.34 390.5,204.78 391.4,204.2" fill="none" stroke="#B8442A" stroke-width="0.95" stroke-linecap="butt" stroke-linejoin="round"/>
<polyline points="355.52,215.1 357.2,215.07 358.88,215.02 360.57,214.95 362.25,214.88 363.93,214.78 365.61,214.67 367.29,214.54 368.98,214.38 370.66,214.21 372.34,214.02 374.02,213.8 375.7,213.56 377.39,213.3 379.07,213.01 380.75,212.69 382.43,212.35 384.11,211.98 385.8,211.58 387.48,211.15 389.16,210.69 390.84,210.21 392.52,209.69 394.21,209.14 395.89,208.55 397.57,207.94 399.25,207.29 400.93,206.6 402.62,205.88 404.3,205.13 405.98,204.34 407.66,203.51 409.34,202.64 411.03,201.74 412.71,200.8 414.39,199.81 416.07,198.79 417.75,197.73 419.44,196.63 421.12,195.49 422.8,194.3" fill="none" stroke="#F28E2B" stroke-width="1.0" stroke-linecap="butt" stroke-linejoin="round"/>
<polyline points="355.52,215.11 356.75,215.09 357.97,215.06 359.2,215.03 360.43,214.99 361.65,214.94 362.88,214.88 364.11,214.82 365.34,214.74 366.56,214.66 367.79,214.57 369.02,214.46 370.24,214.35 371.47,214.23 372.7,214.09 373.92,213.94 375.15,213.79 376.38,213.61 377.61,213.43 378.83,213.23 380.06,213.03 381.29,212.8 382.51,212.57 383.74,212.31 384.97,212.05 386.19,211.77 387.42,211.47 388.65,211.16 389.88,210.84 391.1,210.49 392.33,210.14 393.56,209.76 394.78,209.37 396.01,208.96 397.24,208.53 398.46,208.09 399.69,207.63 400.92,207.15 402.15,206.65 403.37,206.14 404.6,205.6" fill="none" stroke="#F3E02A" stroke-width="1.15" stroke-linecap="butt" stroke-linejoin="round"/>
<polyline points="355.52,215.09 356.9,215.05 358.27,215 359.65,214.93 361.03,214.86 362.4,214.77 363.78,214.66 365.16,214.54 366.54,214.4 367.91,214.25 369.29,214.07 370.67,213.88 372.04,213.67 373.42,213.43 374.8,213.18 376.17,212.9 377.55,212.6 378.93,212.28 380.31,211.93 381.68,211.57 383.06,211.17 384.44,210.75 385.81,210.31 387.19,209.84 388.57,209.34 389.94,208.81 391.32,208.26 392.7,207.68 394.08,207.06 395.45,206.42 396.83,205.75 398.21,205.05 399.58,204.32 400.96,203.56 402.34,202.76 403.71,201.94 405.09,201.08 406.47,200.18 407.85,199.26 409.22,198.3 410.6,197.3" fill="none" stroke="#35A275" stroke-width="1.0" stroke-linecap="butt" stroke-linejoin="round"/>
<polyline points="355.52,215.07 357.05,215.01 358.59,214.94 360.12,214.84 361.66,214.73 363.19,214.59 364.73,214.42 366.26,214.23 367.8,214.01 369.33,213.76 370.86,213.48 372.4,213.18 373.93,212.83 375.47,212.46 377,212.04 378.54,211.6 380.07,211.11 381.61,210.59 383.14,210.03 384.68,209.42 386.21,208.78 387.74,208.1 389.28,207.37 390.81,206.59 392.35,205.78 393.88,204.91 395.42,204 396.95,203.05 398.49,202.04 400.02,200.98 401.55,199.88 403.09,198.72 404.62,197.52 406.16,196.26 407.69,194.94 409.23,193.57 410.76,192.15 412.3,190.67 413.83,189.14 415.37,187.55 416.9,185.9" fill="none" stroke="#4C8FCF" stroke-width="1.0" stroke-linecap="butt" stroke-linejoin="round"/>
<polyline points="355.52,215.05 357.68,214.94 359.83,214.79 361.99,214.59 364.15,214.33 366.3,214.01 368.46,213.61 370.62,213.15 372.78,212.61 374.93,211.99 377.09,211.28 379.25,210.49 381.4,209.6 383.56,208.62 385.72,207.54 387.87,206.36 390.03,205.07 392.19,203.67 394.35,202.16 396.5,200.54 398.66,198.8 400.82,196.94 402.97,194.96 405.13,192.85 407.29,190.61 409.44,188.24 411.6,185.73 413.76,183.09 415.92,180.31 418.07,177.39 420.23,174.32 422.39,171.11 424.54,167.75 426.7,164.23 428.86,160.57 431.01,156.74 433.17,152.76 435.33,148.62 437.49,144.31 439.64,139.84 441.8,135.2" fill="none" stroke="#A05CC6" stroke-width="1.0" stroke-linecap="butt" stroke-linejoin="round"/>
<rect x="472.5" y="118.3" width="98.1" height="12.1" fill="#D9D9D9"/>
<text x="521.55" y="126.75" text-anchor="middle" font-size="6.4" fill="#333" >MS1-5</text>
<rect x="472.5" y="130.4" width="98.1" height="88.4" fill="#EBEBEB"/>
<line x1="487.15" y1="130.4" x2="487.15" y2="218.8" stroke="#fff" stroke-width="0.5"/>
<line x1="512.85" y1="130.4" x2="512.85" y2="218.8" stroke="#fff" stroke-width="0.5"/>
<line x1="538.55" y1="130.4" x2="538.55" y2="218.8" stroke="#fff" stroke-width="0.5"/>
<line x1="564.25" y1="130.4" x2="564.25" y2="218.8" stroke="#fff" stroke-width="0.5"/>
<line x1="472.5" y1="204.99" x2="570.6" y2="204.99" stroke="#fff" stroke-width="0.5"/>
<line x1="472.5" y1="184.37" x2="570.6" y2="184.37" stroke="#fff" stroke-width="0.5"/>
<line x1="472.5" y1="163.75" x2="570.6" y2="163.75" stroke="#fff" stroke-width="0.5"/>
<line x1="472.5" y1="143.13" x2="570.6" y2="143.13" stroke="#fff" stroke-width="0.5"/>
<line x1="474.3" y1="130.4" x2="474.3" y2="218.8" stroke="#fff" stroke-width="1"/>
<line x1="500" y1="130.4" x2="500" y2="218.8" stroke="#fff" stroke-width="1"/>
<line x1="525.7" y1="130.4" x2="525.7" y2="218.8" stroke="#fff" stroke-width="1"/>
<line x1="551.4" y1="130.4" x2="551.4" y2="218.8" stroke="#fff" stroke-width="1"/>
<line x1="472.5" y1="215.3" x2="570.6" y2="215.3" stroke="#fff" stroke-width="1"/>
<line x1="472.5" y1="194.68" x2="570.6" y2="194.68" stroke="#fff" stroke-width="1"/>
<line x1="472.5" y1="174.06" x2="570.6" y2="174.06" stroke="#fff" stroke-width="1"/>
<line x1="472.5" y1="153.44" x2="570.6" y2="153.44" stroke="#fff" stroke-width="1"/>
<line x1="472.5" y1="132.82" x2="570.6" y2="132.82" stroke="#fff" stroke-width="1"/>
<line x1="470.3" y1="215.3" x2="472.5" y2="215.3" stroke="#444444" stroke-width="0.6"/>
<text x="468.9" y="217.7" text-anchor="end" font-size="6.8" fill="#5A5A5A">0</text>
<line x1="470.3" y1="194.68" x2="472.5" y2="194.68" stroke="#444444" stroke-width="0.6"/>
<text x="468.9" y="197.08" text-anchor="end" font-size="6.8" fill="#5A5A5A">20</text>
<line x1="470.3" y1="174.06" x2="472.5" y2="174.06" stroke="#444444" stroke-width="0.6"/>
<text x="468.9" y="176.46" text-anchor="end" font-size="6.8" fill="#5A5A5A">40</text>
<line x1="470.3" y1="153.44" x2="472.5" y2="153.44" stroke="#444444" stroke-width="0.6"/>
<text x="468.9" y="155.84" text-anchor="end" font-size="6.8" fill="#5A5A5A">60</text>
<line x1="470.3" y1="132.82" x2="472.5" y2="132.82" stroke="#444444" stroke-width="0.6"/>
<text x="468.9" y="135.22" text-anchor="end" font-size="6.8" fill="#5A5A5A">80</text>
<line x1="474.3" y1="218.8" x2="474.3" y2="221" stroke="#444444" stroke-width="0.6"/>
<text x="474.3" y="228" text-anchor="middle" font-size="6.8" fill="#5A5A5A">0</text>
<line x1="500" y1="218.8" x2="500" y2="221" stroke="#444444" stroke-width="0.6"/>
<text x="500" y="228" text-anchor="middle" font-size="6.8" fill="#5A5A5A">50</text>
<line x1="525.7" y1="218.8" x2="525.7" y2="221" stroke="#444444" stroke-width="0.6"/>
<text x="525.7" y="228" text-anchor="middle" font-size="6.8" fill="#5A5A5A">100</text>
<line x1="551.4" y1="218.8" x2="551.4" y2="221" stroke="#444444" stroke-width="0.6"/>
<text x="551.4" y="228" text-anchor="middle" font-size="6.8" fill="#5A5A5A">150</text>
<text x="477.5" y="146.2" font-size="10" fill="#111" stroke="#111" stroke-width="0.5">(g)</text>
<polyline points="477.28,215.25 479.51,215.13 481.74,214.94 483.97,214.68 486.2,214.32 488.43,213.89 490.66,213.37 492.89,212.75 495.12,212.05 497.36,211.26 499.59,210.37 501.82,209.39 504.05,208.31 506.28,207.13 508.51,205.86 510.74,204.48 512.97,203.01 515.2,201.43 517.43,199.76 519.66,197.98 521.89,196.1 524.12,194.11 526.35,192.02 528.58,189.82 530.81,187.51 533.04,185.1 535.27,182.58 537.5,179.95 539.73,177.22 541.96,174.37 544.2,171.42 546.43,168.35 548.66,165.17 550.89,161.88 553.12,158.48 555.35,154.97 557.58,151.34 559.81,147.6 562.04,143.75 564.27,139.78 566.5,135.7" fill="none" stroke="#C5622B" stroke-width="1.0" stroke-linecap="butt" stroke-linejoin="round"/>
<polyline points="477.28,215.29 478.09,215.28 478.89,215.27 479.7,215.26 480.5,215.25 481.31,215.23 482.11,215.21 482.92,215.18 483.72,215.15 484.53,215.12 485.34,215.08 486.14,215.04 486.95,215 487.75,214.95 488.56,214.9 489.36,214.84 490.17,214.78 490.97,214.72 491.78,214.65 492.59,214.57 493.39,214.49 494.2,214.41 495,214.32 495.81,214.23 496.61,214.13 497.42,214.02 498.22,213.91 499.03,213.8 499.83,213.68 500.64,213.55 501.45,213.42 502.25,213.29 503.06,213.15 503.86,213 504.67,212.84 505.47,212.69 506.28,212.52 507.08,212.35 507.89,212.17 508.69,211.99 509.5,211.8" fill="none" stroke="#EE8FCF" stroke-width="0.9" stroke-linecap="butt" stroke-linejoin="round"/>
<polyline points="477.28,215.28 478,215.27 478.72,215.25 479.44,215.23 480.15,215.2 480.87,215.17 481.59,215.14 482.31,215.09 483.02,215.05 483.74,214.99 484.46,214.94 485.18,214.87 485.9,214.8 486.61,214.72 487.33,214.64 488.05,214.55 488.77,214.45 489.49,214.34 490.2,214.23 490.92,214.11 491.64,213.98 492.36,213.85 493.08,213.71 493.79,213.56 494.51,213.4 495.23,213.23 495.95,213.06 496.67,212.88 497.38,212.68 498.1,212.48 498.82,212.28 499.54,212.06 500.26,211.83 500.97,211.6 501.69,211.36 502.41,211.1 503.13,210.84 503.85,210.57 504.56,210.29 505.28,210 506,209.7" fill="none" stroke="#E8D030" stroke-width="1.1" stroke-linecap="butt" stroke-linejoin="round"/>
<polyline points="477.28,215.25 478.32,215.21 479.37,215.16 480.41,215.09 481.45,215.01 482.5,214.91 483.54,214.8 484.58,214.67 485.62,214.53 486.67,214.38 487.71,214.21 488.75,214.02 489.8,213.82 490.84,213.6 491.88,213.37 492.93,213.12 493.97,212.86 495.01,212.58 496.05,212.28 497.1,211.97 498.14,211.64 499.18,211.3 500.23,210.94 501.27,210.56 502.31,210.17 503.36,209.76 504.4,209.33 505.44,208.89 506.48,208.43 507.53,207.95 508.57,207.46 509.61,206.95 510.66,206.42 511.7,205.88 512.74,205.32 513.79,204.74 514.83,204.15 515.87,203.54 516.91,202.91 517.96,202.26 519,201.6" fill="none" stroke="#E98A1F" stroke-width="1.2" stroke-linecap="butt" stroke-linejoin="round"/>
<polyline points="477.28,215.23 478.54,215.17 479.79,215.08 481.05,214.97 482.3,214.85 483.56,214.7 484.81,214.54 486.07,214.36 487.32,214.16 488.58,213.94 489.84,213.71 491.09,213.46 492.35,213.18 493.6,212.9 494.86,212.59 496.11,212.27 497.37,211.93 498.62,211.57 499.88,211.2 501.14,210.8 502.39,210.4 503.65,209.97 504.9,209.53 506.16,209.07 507.41,208.6 508.67,208.11 509.92,207.6 511.18,207.08 512.43,206.53 513.69,205.98 514.95,205.41 516.2,204.82 517.46,204.21 518.71,203.59 519.97,202.95 521.22,202.3 522.48,201.63 523.73,200.95 524.99,200.25 526.24,199.53 527.5,198.8" fill="none" stroke="#27A08A" stroke-width="1.1" stroke-linecap="butt" stroke-linejoin="round"/>
<line x1="200" y1="237.3" x2="575" y2="237.3" stroke="#EEEEEE" stroke-width="0.8"/>
<text x="397.6" y="243.3" text-anchor="middle" font-size="10.2" fill="#111" stroke="#111" stroke-width="0.55" textLength="29.4" lengthAdjust="spacingAndGlyphs">D (cm)</text></svg>
</body></html>
